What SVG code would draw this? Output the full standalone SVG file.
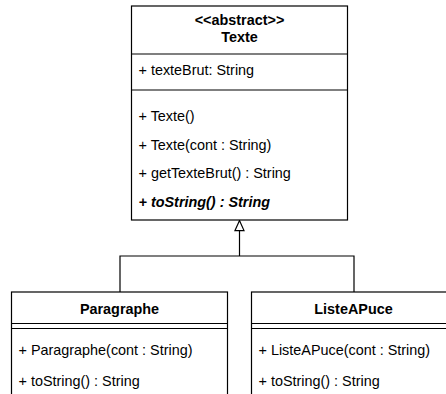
<svg xmlns="http://www.w3.org/2000/svg" width="446" height="394" viewBox="0 0 446 394">
  <style>
    .box { fill: #ffffff; stroke: #000000; stroke-width: 1.2; }
    .sep { stroke: #000000; stroke-width: 1.2; fill: none; }
    .t { font-family: "Liberation Sans", Arial, Helvetica, sans-serif; font-size: 14.4px; fill: #000000; }
    .title { font-weight: bold; text-anchor: middle; }
    .abs { font-weight: bold; font-style: italic; }
    .conn { stroke: #000000; stroke-width: 1.2; fill: none; }
  </style>
  <defs>
    <marker id="gen" viewBox="0 0 12 12" refX="11" refY="6" markerWidth="12" markerHeight="12" markerUnits="userSpaceOnUse" orient="auto">
      <path d="M1,1.5 L11,6 L1,10.5 Z" fill="#ffffff" stroke="#000000" stroke-width="1.2"/>
    </marker>
  </defs>

  <g id="connectors">
    <path class="conn" d="M120,292 L120,256 L354,256 L354,292"/>
    <path class="conn" d="M239.5,256 L239.5,220.6" marker-end="url(#gen)"/>
  </g>

  <g id="Texte">
    <rect class="box" x="131.5" y="6" width="216" height="214"/>
    <line class="sep" x1="131.5" y1="54" x2="347.5" y2="54"/>
    <line class="sep" x1="131.5" y1="90" x2="347.5" y2="90"/>
    <text class="t title" x="239.5" y="25">&lt;&lt;abstract&gt;&gt;</text>
    <text class="t title" x="239.5" y="42">Texte</text>
    <text class="t" x="138.5" y="75">+ texteBrut: String</text>
    <text class="t" x="138.5" y="121">+ Texte()</text>
    <text class="t" x="138.5" y="149.5">+ Texte(cont : String)</text>
    <text class="t" x="138.5" y="178">+ getTexteBrut() : String</text>
    <text class="t abs" x="138.5" y="207">+ toString() : String</text>
  </g>

  <g id="Paragraphe">
    <rect class="box" x="11.5" y="292" width="216" height="120"/>
    <line class="sep" x1="11.5" y1="323.5" x2="227.5" y2="323.5"/>
    <line class="sep" x1="11.5" y1="328.5" x2="227.5" y2="328.5"/>
    <text class="t title" x="119.5" y="313.5">Paragraphe</text>
    <text class="t" x="18.5" y="355">+ Paragraphe(cont : String)</text>
    <text class="t" x="18.5" y="386">+ toString() : String</text>
  </g>

  <g id="ListeAPuce">
    <rect class="box" x="251.5" y="292" width="204" height="120"/>
    <line class="sep" x1="251.5" y1="323.5" x2="455.5" y2="323.5"/>
    <line class="sep" x1="251.5" y1="328.5" x2="455.5" y2="328.5"/>
    <text class="t title" x="353.5" y="313.5">ListeAPuce</text>
    <text class="t" x="258.5" y="355">+ ListeAPuce(cont : String)</text>
    <text class="t" x="258.5" y="386">+ toString() : String</text>
  </g>
</svg>
